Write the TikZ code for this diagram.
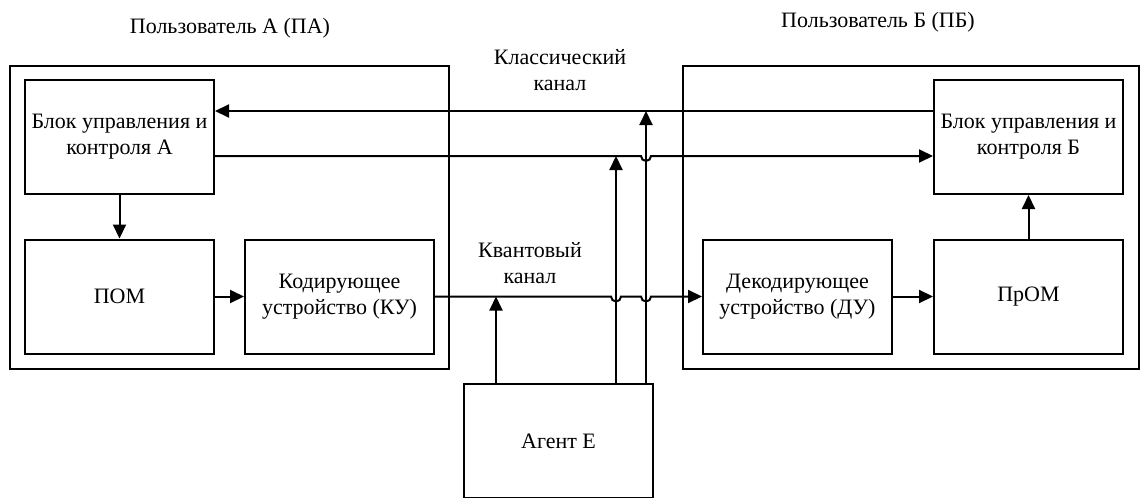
\documentclass[tikz,border=0pt]{standalone}
\usepackage{fontspec}
\setmainfont{Liberation Serif}
\usetikzlibrary{arrows.meta,calc}
\begin{document}
\begin{tikzpicture}[x=1pt,y=-1pt,
  every node/.style={font=\fontsize{22}{26}\selectfont},
  blk/.style={draw,line width=2pt,minimum width=189pt,minimum height=114pt,align=center,inner sep=0pt},
  frame/.style={draw,line width=2pt,inner sep=0pt},
  conn/.style={line width=2pt,-{Triangle[length=14pt,width=13pt]}},
  wire/.style={line width=2pt}]
\useasboundingbox (0,0) rectangle (1141,498);
% outer frames
\node[frame,minimum width=439pt,minimum height=303pt] (PA) at (229.5,217.5) {};
\node[frame,minimum width=456pt,minimum height=303pt] (PB) at (911,217.5) {};
\node (PAlab) at (230,28) {Пользователь А (ПА)};
\node (PBlab) at (878,22) {Пользователь Б (ПБ)};
% blocks
\node[blk] (BA) at (119.5,137) {Блок управления и\\контроля А};
\node[blk] (POM) at (119.5,296.5) {ПОМ};
\node[blk] (KU) at (339.5,296.5) {Кодирующее\\устройство (КУ)};
\node[blk] (BB) at (1028.5,137) {Блок управления и\\контроля Б};
\node[blk] (DU) at (797.5,296.5) {Декодирующее\\устройство (ДУ)};
\node[blk] (PROM) at (1028.5,296.5) {ПрОМ};
\node[blk,minimum height=114pt] (E) at (558.5,441) {Агент Е};
% labels
\node[align=center] (cl) at (560,70) {Классический\\канал};
\node[align=center] (ql) at (530,263) {Квантовый\\канал};
% internal arrows
\draw[conn] (BA.south) -- (POM.north);
\draw[conn] (POM.east) -- (KU.west);
\draw[conn] (DU.east) -- (PROM.west);
\draw[conn] (PROM.north) -- (BB.south);
% classical channel
\coordinate (c1) at (646,111);
\coordinate (c2) at (616,156);
\draw[conn] (BB.west |- c1) -- (BA.east |- c1);
\draw[conn] (BA.east |- c2) -- ($(c1|-c2)+(-5,0)$) arc[start angle=180,end angle=0,radius=5] -- (BB.west |- c2);
% quantum channel
\coordinate (q0) at (496,296.5);
\draw[conn] (KU.east) -- ($(c2|-KU.east)+(-5,0)$) arc[start angle=180,end angle=0,radius=5]
  -- ($(c1|-KU.east)+(-5,0)$) arc[start angle=180,end angle=0,radius=5] -- (DU.west);
% agent lines
\draw[conn] (q0 |- E.north) -- (q0);
\draw[conn] (c2 |- E.north) -- (c2);
\draw[conn] (c1 |- E.north) -- (c1);
\end{tikzpicture}
\end{document}
